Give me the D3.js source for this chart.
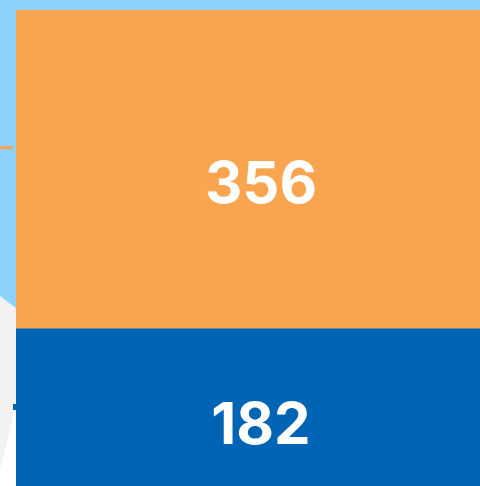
<!DOCTYPE html>
<html>
<head>
<meta charset="utf-8">
<script src="https://cdn.jsdelivr.net/npm/d3@7"></script>
<style>
  html, body { margin: 0; padding: 0; background: #fff; }
  svg { display: block; }
</style>
</head>
<body>
<div id="chart"></div>
<script>
// data
const categories = ["Total"];
const seriesNames = ["bottom", "top"];
const bottomValues = [182];
const topValues = [356];
const seriesColors = ["#0064B4", "#F9A54F"];

const W = 480, H = 486;

const svg = d3.select("#chart")
    .append("svg")
    .attr("width", W)
    .attr("height", H);

// background
svg.append("rect")
    .attr("width", W)
    .attr("height", H)
    .attr("fill", "#8DD3F9");

svg.append("path")
    .attr("d", "M0,296 L16,308 L16,486 L0,486 Z")
    .attr("fill", "#F2F2F2");

svg.append("path")
    .attr("d", "M16,398 Q10,432 0,470 L0,486 L16,486 Z")
    .attr("fill", "#FFFFFF");

// small edge marks
svg.append("rect")
    .attr("x", 0).attr("y", 146)
    .attr("width", 13).attr("height", 3)
    .attr("fill", "#F9A54F");

svg.append("rect")
    .attr("x", 13).attr("y", 404)
    .attr("width", 4).attr("height", 6)
    .attr("fill", "#0064B4");

// scales
const table = categories.map((c, i) => ({ cat: c, bottom: bottomValues[i], top: topValues[i] }));
const stacked = d3.stack().keys(seriesNames)(table);

const x = d3.scaleBand()
    .domain(categories)
    .range([16, 506])
    .padding(0);

const y = d3.scaleLinear()
    .domain([0, d3.max(table, d => d.bottom + d.top)])
    .range([491, 10]);

const color = d3.scaleOrdinal().domain(seriesNames).range(seriesColors);

const layers = svg.selectAll(".layer")
    .data(stacked)
    .join("g")
    .attr("class", "layer")
    .attr("fill", d => color(d.key));

layers.selectAll("rect")
    .data(d => d)
    .join("rect")
    .attr("x", d => x(d.data.cat))
    .attr("y", d => y(d[1]))
    .attr("width", x.bandwidth())
    .attr("height", d => y(d[0]) - y(d[1]));

// value labels
stacked.forEach(layer => {
    layer.forEach(d => {
        svg.append("text")
            .attr("x", x(d.data.cat) + x.bandwidth() / 2)
            .attr("y", (y(d[0]) + y(d[1])) / 2 + 34)
            .attr("text-anchor", "middle")
            .attr("fill", "#fff")
            .attr("font-family", "Inter, Roboto, Liberation Sans, Arial, sans-serif")
            .attr("font-weight", "bold")
            .attr("font-size", "58px")
            .text(d[1] - d[0]);
    });
});
</script>
</body>
</html>
